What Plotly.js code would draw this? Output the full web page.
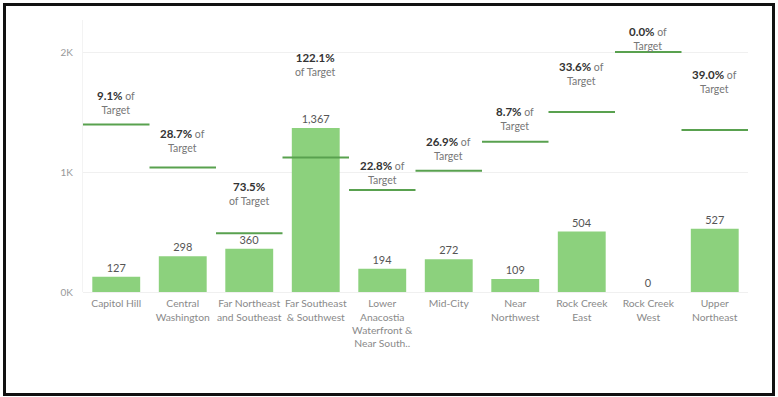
<!DOCTYPE html>
<html><head><meta charset="utf-8">
<script src="https://cdn.plot.ly/plotly-3.0.1.min.js"></script>
<style>
html,body{margin:0;padding:0;background:#fff;}
#wrap{position:relative;width:778px;height:397px;}
#chart{position:absolute;left:0;top:0;width:778px;height:397px;}
#frame{position:absolute;left:3px;top:3px;width:772px;height:393px;box-sizing:border-box;border:3px solid #111;pointer-events:none;}
</style></head>
<body><div id="wrap"><div id="chart"></div><div id="frame"></div></div>
<script>
const categories = ["Capitol Hill","Central<br>Washington","Far Northeast<br>and Southeast","Far Southeast<br>& Southwest","Lower<br>Anacostia<br>Waterfront &<br>Near South..","Mid-City","Near<br>Northwest","Rock Creek<br>East","Rock Creek<br>West","Upper<br>Northeast"];
const actual = [127,298,360,1367,194,272,109,504,0,527];
const target = [1396,1038,490,1120,851,1011,1253,1500,2000,1351];
const pctOfTarget = ["9.1%","28.7%","73.5%","122.1%","22.8%","26.9%","8.7%","33.6%","0.0%","39.0%"];
const yTickVals = [0,1000,2000];
const yTickText = ["0K","1K","2K"];

// layout-only: vertical pixel offset of each "% of Target" label above its target line
const labelShift = [22,27,40,93,17,22,23,39,14,48];
const labelBreak = [false,false,true,true,false,false,false,false,false,false];

const FONT = "Lato, 'Open Sans', sans-serif";
const idx = categories.map((c,i)=>i);

const bars = {
  type:'bar', x: idx, y: actual, width:0.72,
  marker:{color:'#8CD17D'},
  text: actual.map(v=>v.toLocaleString('en-US')),
  textposition:'outside', cliponaxis:false,
  textfont:{family:FONT,size:11,color:'#555'},
  hoverinfo:'skip'
};

const shapes = target.map((t,i)=>({
  type:'line', xref:'x', yref:'y', x0:i-0.5, x1:i+0.5, y0:t, y1:t,
  line:{color:'#59A14F', width:2}, layer:'above'
}));

const annotations = target.map((t,i)=>({
  xref:'x', yref:'y', x:i, y:t, yanchor:'middle', xanchor:'center',
  yshift: labelShift[i], showarrow:false,
  text: labelBreak[i]
    ? '<span style="color:#333;font-size:11.5px"><b>'+pctOfTarget[i]+'</b></span><br>of Target'
    : '<span style="color:#333;font-size:11.5px"><b>'+pctOfTarget[i]+'</b></span> of<br>Target',
  font:{family:FONT,size:10.5,color:'#777'}, align:'center'
}));

const layout = {
  width:778, height:397,
  margin:{l:83,r:30,t:20,b:105},
  paper_bgcolor:'#fff', plot_bgcolor:'#fff',
  showlegend:false,
  bargap:0.28,
  xaxis:{
    type:'linear', range:[-0.5,9.5], tickvals: idx, ticktext: categories,
    showgrid:false, zeroline:false, showline:false, ticks:'',
    ticklabelstandoff:4, tickangle:0,
    tickfont:{family:FONT,size:10.3,color:'#8a8a8a'}, fixedrange:true
  },
  yaxis:{
    range:[0,2267], tickvals:yTickVals, ticktext:yTickText,
    showgrid:true, gridcolor:'#f0f0f0', gridwidth:1,
    zeroline:true, zerolinecolor:'#f0f0f0', zerolinewidth:1,
    showline:true, linecolor:'#f3f3f3', ticks:'', ticklabelstandoff:7,
    tickfont:{family:FONT,size:10,color:'#999'}, fixedrange:true
  },
  shapes: shapes,
  annotations: annotations
};

Plotly.newPlot('chart',[bars],layout,{displayModeBar:false,staticPlot:true});
</script></body></html>
